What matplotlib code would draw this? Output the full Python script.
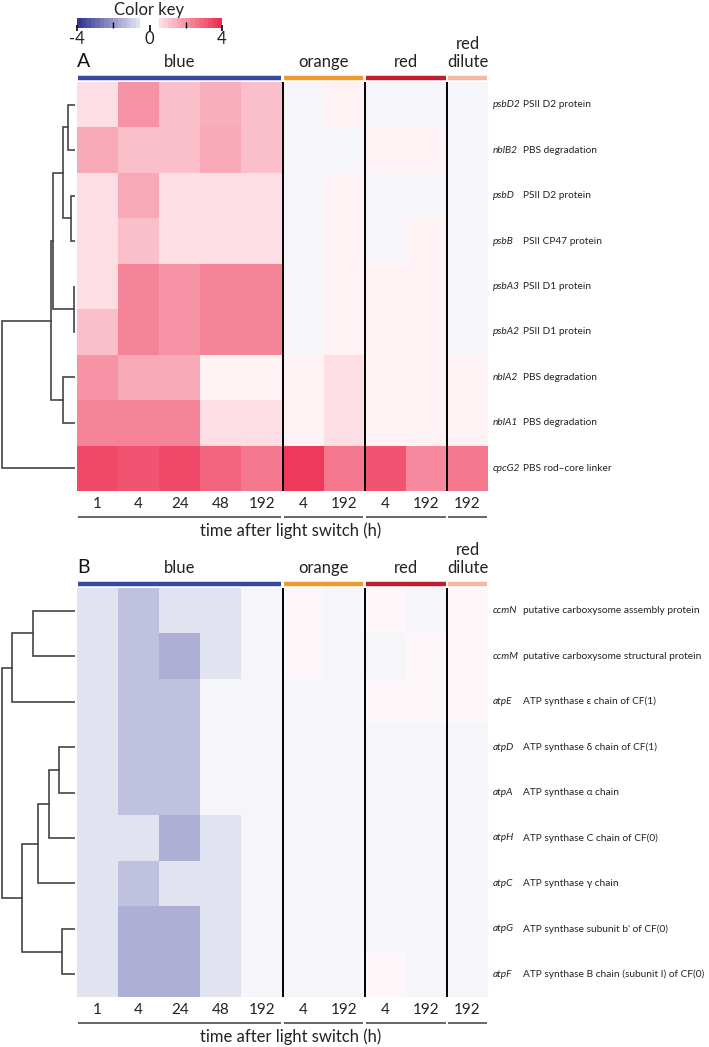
import numpy as np
import matplotlib
matplotlib.use("Agg")
import matplotlib.pyplot as plt
from matplotlib.colors import LinearSegmentedColormap, ListedColormap, BoundaryNorm
from matplotlib.cm import ScalarMappable

plt.rcParams['font.family'] = ['Lato', 'DejaVu Sans']

# ---- data ---------------------------------------------------------------
col_labels = ['1', '4', '24', '48', '192', '4', '192', '4', '192', '192']
groups = ['blue', 'orange', 'red', 'red\ndilute']
group_edges = [0, 5, 7, 9, 10]
group_colors = ['#3549a0', '#f09a2c', '#be1e2d', '#f5b7a1']

genes_a = ['psbD2', 'nblB2', 'psbD', 'psbB', 'psbA3', 'psbA2', 'nblA2', 'nblA1', 'cpcG2']
desc_a = ['PSII D2 protein', 'PBS degradation', 'PSII D2 protein', 'PSII CP47 protein',
          'PSII D1 protein', 'PSII D1 protein', 'PBS degradation', 'PBS degradation',
          'PBS rod\u2013core linker']
values_a = [
    [0.6, 2.0, 1.2, 1.5, 1.2, -0.18, 0.22, -0.18, -0.18, -0.18],
    [1.6, 1.2, 1.2, 1.6, 1.2, -0.18, -0.18, 0.22, 0.22, -0.18],
    [0.6, 1.6, 0.6, 0.6, 0.6, -0.18, 0.22, -0.18, -0.18, -0.18],
    [0.6, 1.2, 0.6, 0.6, 0.6, -0.18, 0.22, -0.18, 0.22, -0.18],
    [0.6, 2.3, 2.0, 2.3, 2.3, -0.18, 0.22, 0.22, 0.22, -0.18],
    [1.2, 2.3, 2.0, 2.3, 2.3, -0.18, 0.22, 0.22, 0.22, -0.18],
    [2.0, 1.6, 1.6, 0.22, 0.22, 0.22, 0.6, 0.22, 0.22, 0.22],
    [2.3, 2.3, 2.3, 0.6, 0.6, 0.22, 0.6, 0.22, 0.22, 0.22],
    [3.4, 3.2, 3.4, 2.9, 2.5, 3.7, 2.5, 3.2, 2.2, 2.5],
]
# linkage rows: (cluster i, cluster j, height); new clusters numbered from 9
link_a = [(0, 1, 7), (2, 3, 4), (9, 10, 12), (4, 5, 1), (11, 12, 22),
          (6, 7, 12), (13, 14, 24), (15, 8, 73)]

genes_b = ['ccmN', 'ccmM', 'atpE', 'atpD', 'atpA', 'atpH', 'atpC', 'atpG', 'atpF']
desc_b = ['putative carboxysome assembly protein', 'putative carboxysome structural protein',
          'ATP synthase \u03b5 chain of CF(1)', 'ATP synthase \u03b4 chain of CF(1)',
          'ATP synthase \u03b1 chain', 'ATP synthase C chain of CF(0)',
          'ATP synthase \u03b3 chain', "ATP synthase subunit b' of CF(0)",
          'ATP synthase B chain (subunit I) of CF(0)']
values_b = [
    [-0.55, -1.2, -0.55, -0.55, -0.18, 0.15, -0.18, 0.15, -0.18, 0.15],
    [-0.55, -1.2, -1.55, -0.55, -0.18, 0.15, -0.18, -0.18, 0.15, 0.15],
    [-0.55, -1.2, -1.2, -0.18, -0.18, -0.18, -0.18, 0.15, 0.15, 0.15],
    [-0.55, -1.2, -1.2, -0.18, -0.18, -0.18, -0.18, -0.18, -0.18, -0.18],
    [-0.55, -1.2, -1.2, -0.18, -0.18, -0.18, -0.18, -0.18, -0.18, -0.18],
    [-0.55, -0.55, -1.55, -0.55, -0.18, -0.18, -0.18, -0.18, -0.18, -0.18],
    [-0.55, -1.2, -0.55, -0.55, -0.18, -0.18, -0.18, -0.18, -0.18, -0.18],
    [-0.55, -1.55, -1.55, -0.55, -0.18, -0.18, -0.18, -0.18, -0.18, -0.18],
    [-0.55, -1.55, -1.55, -0.55, -0.18, -0.18, -0.18, 0.15, -0.18, -0.18],
]
link_b = [(0, 1, 42), (9, 2, 63), (3, 4, 16), (11, 5, 26), (12, 6, 37),
          (7, 8, 13), (13, 14, 53), (10, 15, 73)]

# ---- figure -------------------------------------------------------------
W, H = 709, 1047
fig = plt.figure(figsize=(W / 100, H / 100), dpi=100)
cmap = LinearSegmentedColormap.from_list('bwr_key', ['#2e3192', '#ffffff', '#ee2a4e'])


def px_axes(x, y, w, h):
    return fig.add_axes([x / W, 1 - (y + h) / H, w / W, h / H])


def draw_dendrogram(ax, links, n):
    pos = {i: (0.0, i + 0.5) for i in range(n)}
    for k, (a, b, h) in enumerate(links):
        ha, ya = pos[a]
        hb, yb = pos[b]
        ax.plot([ha, h, h, hb], [ya, ya, yb, yb], color='#444444', lw=1.2,
                solid_joinstyle='miter')
        pos[n + k] = (h, (ya + yb) / 2)
    ax.set_xlim(75, 0)
    ax.set_ylim(n, 0)
    ax.axis('off')


def draw_panel(top, letter, values, genes, descs, links):
    hx, hw, hh = 77, 411, 409
    ax = px_axes(hx, top, hw, hh)
    data = np.array(values)
    ax.pcolormesh(np.arange(11), np.arange(10), data, cmap=cmap, vmin=-4, vmax=4)
    ax.set_xlim(0, 10)
    ax.set_ylim(9, 0)
    for s in ax.spines.values():
        s.set_visible(False)
    ax.set_yticks([])
    ax.set_xticks(np.arange(10) + 0.5)
    ax.set_xticklabels(col_labels, fontsize=11, color='#222222')
    ax.tick_params(axis='x', length=0, pad=4)
    for xb in group_edges[1:-1]:
        ax.axvline(xb, color='black', lw=1.4)

    tr = ax.get_xaxis_transform()
    for g, c, x0, x1 in zip(groups, group_colors, group_edges[:-1], group_edges[1:]):
        ax.plot([x0 + 0.03, x1 - 0.03], [1 + 4 / hh] * 2, color=c, lw=3.2,
                transform=tr, clip_on=False, solid_capstyle='butt')
        ax.plot([x0 + 0.03, x1 - 0.03], [-26 / hh] * 2, color='#4d4d4d', lw=1.2,
                transform=tr, clip_on=False, solid_capstyle='butt')
        ax.text((x0 + x1) / 2, 1 + 12 / hh, g, transform=tr, ha='center', va='bottom',
                fontsize=12, color='#222222', linespacing=1.15)
    ax.text(0.0, 1 + 12 / hh, letter, transform=tr, ha='left', va='bottom',
            fontsize=14, color='#111111')
    ax.text(5.2, -40 / hh, 'time after light switch (h)', transform=tr, ha='center',
            va='center', fontsize=12, color='#222222')

    for i, (g, d) in enumerate(zip(genes, descs)):
        ax.text(10.12, i + 0.5, g, fontsize=7.3, style='italic', va='center',
                color='#222222', clip_on=False)
        ax.text(10.85, i + 0.5, d, fontsize=7.3, va='center', color='#222222',
                clip_on=False)

    dax = px_axes(0, top, 75, hh)
    draw_dendrogram(dax, links, len(genes))


draw_panel(82, 'A', values_a, genes_a, desc_a, link_a)
draw_panel(588, 'B', values_b, genes_b, desc_b, link_b)

# ---- colour key ---------------------------------------------------------
bounds = np.arange(-4, 4.01, 0.25)
centers = (bounds[:-1] + bounds[1:]) / 2
key_colors = [cmap((c + 4) / 8) if abs(c) > 0.5 else '#ffffff' for c in centers]
sm = ScalarMappable(norm=BoundaryNorm(bounds, len(centers)), cmap=ListedColormap(key_colors))
cax = px_axes(77, 18, 145, 10)
cb = fig.colorbar(sm, cax=cax, orientation='horizontal', ticks=[-4, 0, 4])
cb.outline.set_visible(False)
cb.ax.set_xticklabels(['-4', '0', '4'], fontsize=12, color='#222222')
cb.ax.tick_params(axis='x', length=5, width=1.2, pad=0, direction='inout')
cb.ax.set_xticks([-2, 2], minor=True)
cb.ax.tick_params(axis='x', which='minor', length=4, width=1, direction='in')
cax.set_title('Color key', fontsize=12, color='#222222', pad=2)

fig.savefig('out.png', dpi=100)
